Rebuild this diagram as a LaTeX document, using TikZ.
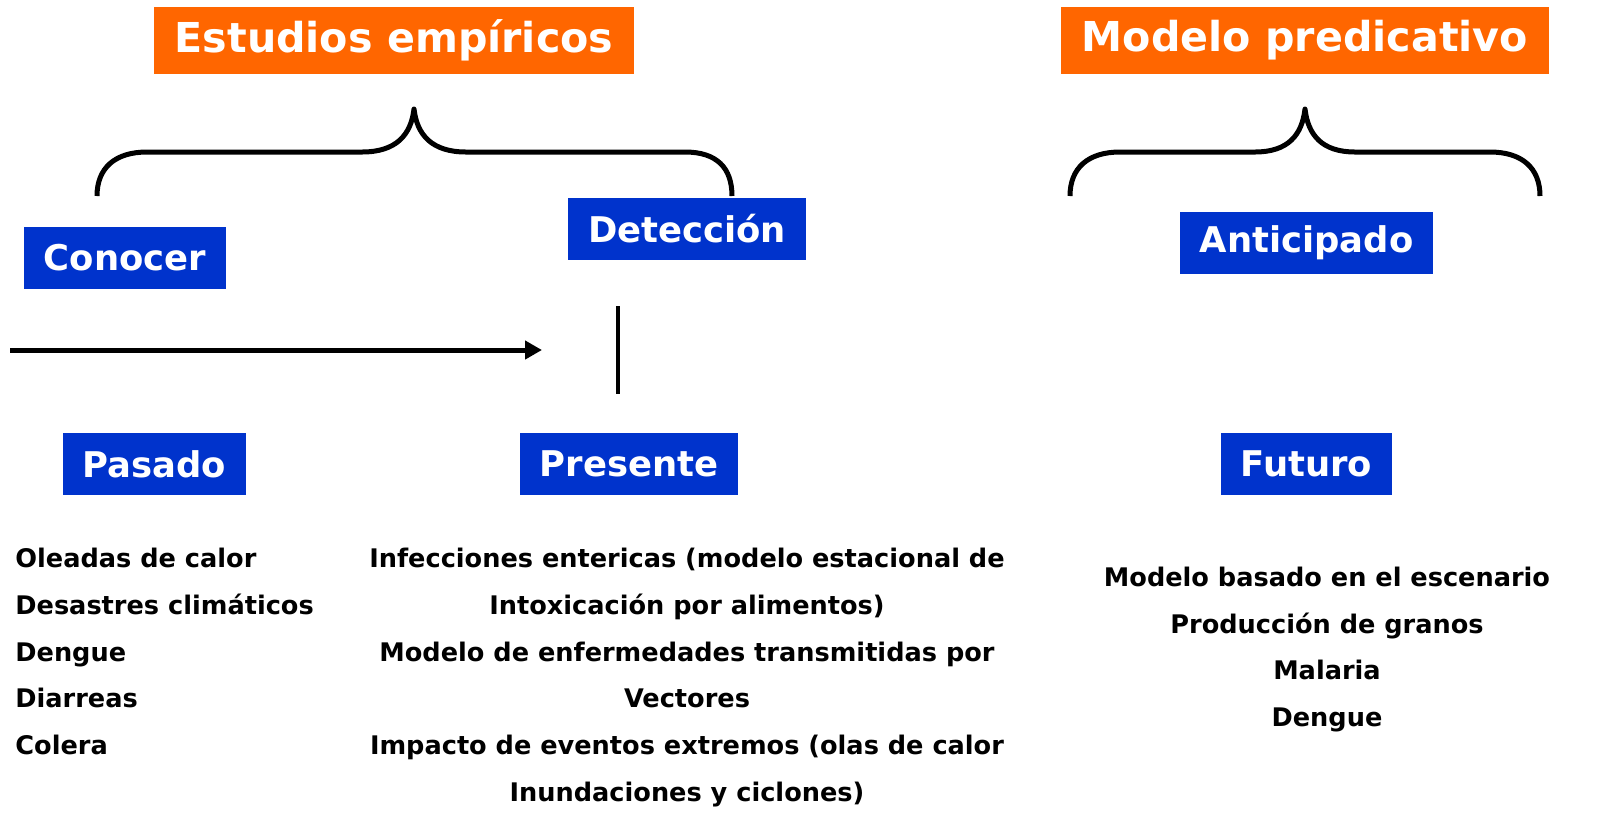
\documentclass[tikz,border=0pt]{standalone}
\usepackage{fontspec}
\setmainfont{DejaVu Sans}
\usetikzlibrary{arrows.meta}
\definecolor{hdrorange}{RGB}{255,102,0}
\definecolor{lblblue}{RGB}{0,51,204}
\begin{document}
\begin{tikzpicture}[x=0.5pt,y=-0.5pt,
  hdr/.style={fill=hdrorange,text=white,font=\fontsize{20.6}{24}\selectfont\bfseries,inner xsep=10.5pt,minimum height=33.5pt,inner ysep=0pt},
  lbl/.style={fill=lblblue,text=white,font=\fontsize{17.7}{21}\selectfont\bfseries,inner xsep=10pt,minimum height=31pt,inner ysep=0pt},
  item/.style={font=\fontsize{12.8}{15}\selectfont\bfseries,inner sep=0pt,anchor=base},
  brace/.style={line width=2.5pt,line cap=butt,line join=round},
  thick line/.style={line width=2.5pt}]
\useasboundingbox (0,0) rectangle (1608,827);
\node[hdr] (est) at (394,40.5) {Estudios empíricos};
\node[hdr] (mod) at (1305,40.5) {Modelo predicativo};
\node[lbl] (con) at (125,258) {Conocer};
\node[lbl] (det) at (687,228.5) {Detección};
\node[lbl] (ant) at (1306.5,243) {Anticipado};
\node[lbl] (pas) at (154.5,464) {Pasado};
\node[lbl] (pre) at (629,464) {Presente};
\node[lbl] (fut) at (1306.5,464) {Futuro};
% braces
\coordinate (b1l) at (97,196);
\coordinate (b1t) at (414,109);
\coordinate (b1r) at (732,196);
\draw[brace] (b1l) .. controls (97,168) and (115,152) .. (147,152) -- (362,152) .. controls (396,152) and (411,135) .. (b1t) .. controls (417,135) and (432,152) .. (466,152) -- (685,152) .. controls (717,152) and (732,168) .. (b1r);
\coordinate (b2l) at (1070,196);
\coordinate (b2t) at (1305,109);
\coordinate (b2r) at (1540,196);
\draw[brace] (b2l) .. controls (1070,168) and (1088,152) .. (1120,152) -- (1255,152) .. controls (1288,152) and (1302,135) .. (b2t) .. controls (1308,135) and (1322,152) .. (1355,152) -- (1490,152) .. controls (1522,152) and (1540,168) .. (b2r);
% arrow
\coordinate (a1) at (10,350);
\coordinate (a2) at (542,350);
\draw[thick line,-{Triangle[length=8.5pt,width=9pt]}] (a1) -- (a2);
\coordinate (v1) at (618,306);
\coordinate (v2) at (618,394);
\draw[line width=2pt] (v1) -- (v2);
% left list
\node[item,anchor=base west] (l1) at (15,567) {Oleadas de calor};
\node[item,anchor=base west] (l2) at (15,614) {Desastres climáticos};
\node[item,anchor=base west] (l3) at (15,661) {Dengue};
\node[item,anchor=base west] (l4) at (15,707) {Diarreas};
\node[item,anchor=base west] (l5) at (15,754) {Colera};
% center list
\node[item] (c1) at (687,567) {Infecciones entericas (modelo estacional de};
\node[item] (c2) at (687,614) {Intoxicación por alimentos)};
\node[item] (c3) at (687,661) {Modelo de enfermedades transmitidas por};
\node[item] (c4) at (687,707) {Vectores};
\node[item] (c5) at (687,754) {Impacto de eventos extremos (olas de calor};
\node[item] (c6) at (687,801) {Inundaciones y ciclones)};
% right list
\node[item] (r1) at (1327,586) {Modelo basado en el escenario};
\node[item] (r2) at (1327,633) {Producción de granos};
\node[item] (r3) at (1327,679) {Malaria};
\node[item] (r4) at (1327,726) {Dengue};
\end{tikzpicture}
\end{document}
